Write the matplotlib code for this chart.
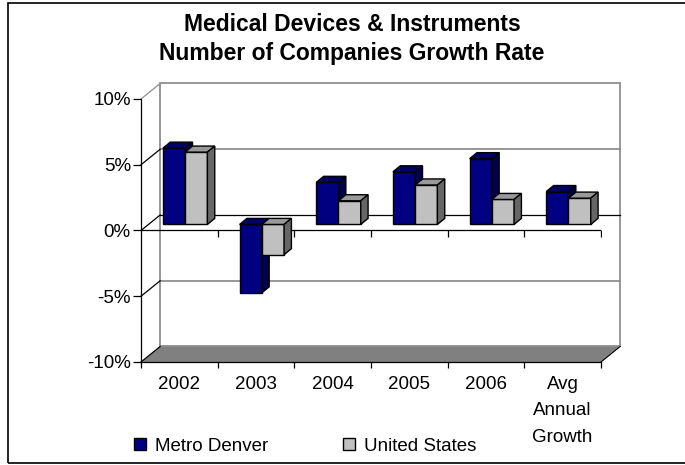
import matplotlib
matplotlib.use("Agg")
import matplotlib.pyplot as plt
from matplotlib.patches import Polygon, Rectangle, Patch
from matplotlib.markers import TICKDOWN

plt.rcParams["font.family"] = ["Liberation Sans", "DejaVu Sans"]

categories = ["2002", "2003", "2004", "2005", "2006", "Avg\nAnnual\nGrowth"]
metro_denver = [5.8, -5.2, 3.2, 4.0, 5.0, 2.5]
united_states = [5.5, -2.3, 1.8, 3.0, 1.9, 2.0]
y_ticks = [-10, -5, 0, 5, 10]

# fake 3D depth, in data units (categories / percent)
WALL_DX, WALL_DY = 0.25, 1.18
BAR_DX, BAR_DY = 0.096, 0.46
BAR_W = 0.29

series = [
    ("Metro Denver", metro_denver, "#000080", "#000066", "#00004d"),
    ("United States", united_states, "#c0c0c0", "#999999", "#666666"),
]

fig = plt.figure(figsize=(6.85, 4.65), dpi=100)
ax = fig.add_axes([141 / 685, 103 / 465, 460 / 685, 263 / 465])
ax.set_xlim(0, len(categories))
ax.set_ylim(-10, 10)
ax.patch.set_visible(False)

# back wall + floor
ax.add_patch(Rectangle((WALL_DX, -10 + WALL_DY), len(categories), 20, fc="white",
                       ec="#8f8f8f", lw=1.3, zorder=0.5, clip_on=False))
for y in [5, -5]:
    ax.plot([WALL_DX, len(categories) + WALL_DX], [y + WALL_DY] * 2, color="#8f8f8f",
            lw=1.3, zorder=0.6, clip_on=False)
ax.plot([WALL_DX, len(categories) + WALL_DX], [WALL_DY] * 2, color="black", lw=0.9,
        zorder=0.6, clip_on=False)
n = len(categories)
ax.add_patch(Polygon([(0, -10), (n, -10), (n + WALL_DX, -10 + WALL_DY), (WALL_DX, -10 + WALL_DY)],
                     closed=True, fc="#808080", ec="none", zorder=0.7, clip_on=False))
ax.plot([n, n + WALL_DX], [-10, -10 + WALL_DY], color="black", lw=0.8, zorder=0.8, clip_on=False)
for y in y_ticks:
    c = "#8f8f8f" if y == 10 else "black"
    ax.plot([0, WALL_DX], [y, y + WALL_DY], color=c, lw=0.9, zorder=0.8, clip_on=False)

# front 0% line with category separators
ax.plot([0, n], [0, 0], color="black", lw=0.9, zorder=1)
ax.plot(range(1, n + 1), [0] * n, ls="", marker=TICKDOWN, ms=5, mew=0.9, color="black", zorder=1)

# bars
z = 3
for k, (name, vals, front, top, side) in enumerate(series):
    xs = [i + 0.48 - BAR_W + k * BAR_W for i in range(n)]
    ax.bar([x + BAR_DX for x in xs], vals, BAR_W, bottom=BAR_DY, align="edge",
           color=front, edgecolor="black", lw=1.0, zorder=z)
    for x, v in zip(xs, vals):
        x0, x1 = x + BAR_DX, x + BAR_DX + BAR_W
        yt = max(v, 0) + BAR_DY
        ax.add_patch(Polygon([(x0, yt), (x1, yt), (x1 + BAR_DX, yt + BAR_DY), (x0 + BAR_DX, yt + BAR_DY)],
                             closed=True, fc=top, ec="black", lw=1.0, zorder=z + 0.1))
        ax.add_patch(Polygon([(x1, BAR_DY), (x1, BAR_DY + v), (x1 + BAR_DX, v + 2 * BAR_DY),
                              (x1 + BAR_DX, 2 * BAR_DY)],
                             closed=True, fc=side, ec="black", lw=1.0, zorder=z + 0.1))
    z += 1

# axes / ticks
for s in ["top", "right"]:
    ax.spines[s].set_visible(False)
for s in ["left", "bottom"]:
    ax.spines[s].set_linewidth(0.9)
    ax.spines[s].set_zorder(0.9)
ax.set_yticks(y_ticks)
ax.set_yticklabels([f"{v}%" for v in y_ticks])
ax.tick_params(axis="y", direction="out", length=5.8, width=0.9, pad=1.5, labelsize=13.5)
ax.set_xticks(range(n + 1))
ax.set_xticklabels([])
ax.set_xticks([i + 0.5 for i in range(n)], minor=True)
ax.set_xticklabels(categories, minor=True)
ax.tick_params(axis="x", which="major", direction="out", length=4.3, width=0.9)
ax.tick_params(axis="x", which="minor", length=0, pad=10, labelsize=13.5)
for t in ax.get_xticklabels(minor=True):
    t.set_linespacing(1.72)

# title
fig.text(352 / 685, 1 - 31 / 465, "Medical Devices & Instruments", ha="center", va="baseline",
         fontsize=16.5, fontweight="bold")
fig.text(352 / 685, 1 - 60 / 465, "Number of Companies Growth Rate", ha="center", va="baseline",
         fontsize=16.5, fontweight="bold")

# legend
handles = [Patch(fc=s[2], ec="black", lw=1.0) for s in series]
fig.legend(handles, [s[0] for s in series], loc="center left", ncol=2,
           bbox_to_anchor=(134 / 685, 1 - 446 / 465), frameon=False, fontsize=13.5,
           handlelength=0.65, handleheight=0.65, handletextpad=0.45, columnspacing=4.0,
           borderpad=0, borderaxespad=0)

# outer chart border (right edge runs off the picture)
fig.patches.append(Rectangle((8 / 685, 2 / 465), 1.2, 460 / 465, transform=fig.transFigure,
                             fill=False, ec="black", lw=1.2))

fig.savefig("out.png", dpi=100)
